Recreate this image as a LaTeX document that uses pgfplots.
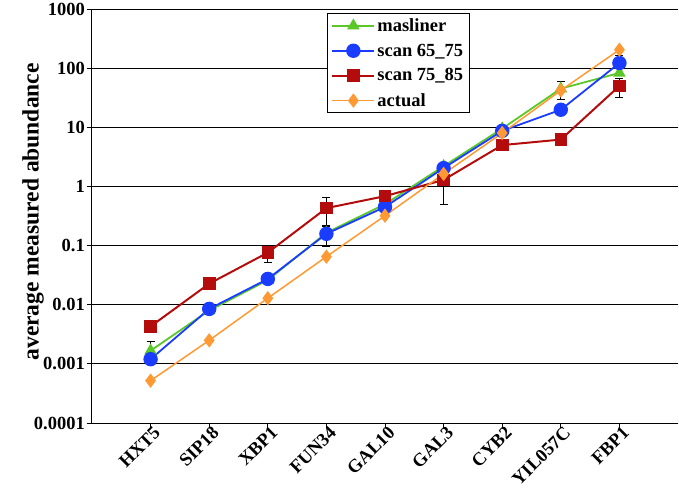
\documentclass[border=0pt]{standalone}
\usepackage{fontspec}
\setmainfont{Liberation Serif}
\usepackage{pgfplots}
\pgfplotsset{compat=1.18}
\definecolor{mgreen}{RGB}{90,200,40}
\definecolor{mblue}{RGB}{25,60,255}
\definecolor{mred}{RGB}{180,12,12}
\definecolor{morange}{RGB}{255,153,51}
\newcommand{\lab}{\fontsize{18.5}{21}\selectfont\bfseries}

\begin{document}
\begin{tikzpicture}
\useasboundingbox (-92pt,-70pt) rectangle (587pt,423pt);
\begin{axis}[
 at={(0,0)},anchor=south west,
 scale only axis,width=586pt,height=414pt,
 ymode=log,ymin=1e-4,ymax=1000,
 xmin=0,xmax=10,
 axis lines=left,axis line style={-,line width=1pt},
 xtick={1,...,9},
 xticklabels={HXT5,SIP18,XBP1,FUN34,GAL10,GAL3,CYB2,YIL057C,FBP1},
 ytick={1e-4,1e-3,0.01,0.1,1,10,100,1000},
 yticklabels={0.0001,0.001,0.01,0.1,1,10,100,1000},
 yminorticks=false,
 tick align=outside,major tick length=5pt,
 tick style={black,line width=0.8pt},
 ymajorgrids,grid style={black,line width=1pt},
 xticklabel style={rotate=45,anchor=north east,font=\lab,inner sep=0.5pt,xshift=4pt,yshift=1pt},
 yticklabel style={font=\lab,inner xsep=2pt},
 ylabel={average measured abundance},
 ylabel style={at={(axis description cs:-0.1007,0.51)},anchor=center,font=\fontsize{23.5}{27}\selectfont\bfseries},
 legend style={at={(0.401,0.99)},anchor=north west,draw=black,line width=0.8pt,
   font=\lab,row sep=7pt,inner xsep=4pt,inner ysep=3pt,fill=white},
 legend cell align=left,
 legend image code/.code={\draw[mark repeat=2,mark phase=2] plot coordinates {(0pt,0pt) (21pt,0pt) (42pt,0pt)};},
]
% error bars
\addplot[forget plot,draw=none,mark=none,
  error bars/.cd,y dir=both,y explicit,
  error bar style={draw=black,line width=0.8pt},
  error mark options={draw=black,rotate=90,mark size=4pt,line width=0.8pt}]
  table[x=x,y=y,y error=e]{
x y e
1 0.00167 0.0007
8 45 15
4 0.158 0.06
9 122 40
3 0.076 0.024
4 0.43 0.22
6 1.29 0.8
7 5.0 1.0
8 6.2 0.8
9 50 18
};
\addplot[mgreen,line width=1.8pt,mark=triangle*,mark size=5.5pt,mark options={solid}] table[x=x,y=y]{
x y
1 0.00167
2 0.0080
3 0.026
4 0.165
5 0.50
6 2.2
7 9.5
8 45
9 83
};
\addlegendentry{masliner}
\addplot[mblue,line width=1.8pt,mark=*,mark size=6.3pt] table[x=x,y=y]{
x y
1 0.0012
2 0.0085
3 0.0273
4 0.158
5 0.45
6 2.04
7 8.7
8 19.8
9 122
};
\addlegendentry{scan 65\_75}
\addplot[mred,line width=2pt,mark=square*,mark size=5.3pt] table[x=x,y=y]{
x y
1 0.0043
2 0.0227
3 0.076
4 0.43
5 0.685
6 1.29
7 5.0
8 6.2
9 50
};
\addlegendentry{scan 75\_85}
\addplot[morange,line width=1.5pt,mark=diamond*,mark size=6pt] table[x=x,y=y]{
x y
1 0.00052
2 0.0025
3 0.0129
4 0.065
5 0.32
6 1.63
7 8.0
8 42
9 205
};
\addlegendentry{actual}
\end{axis}
\end{tikzpicture}
\end{document}
